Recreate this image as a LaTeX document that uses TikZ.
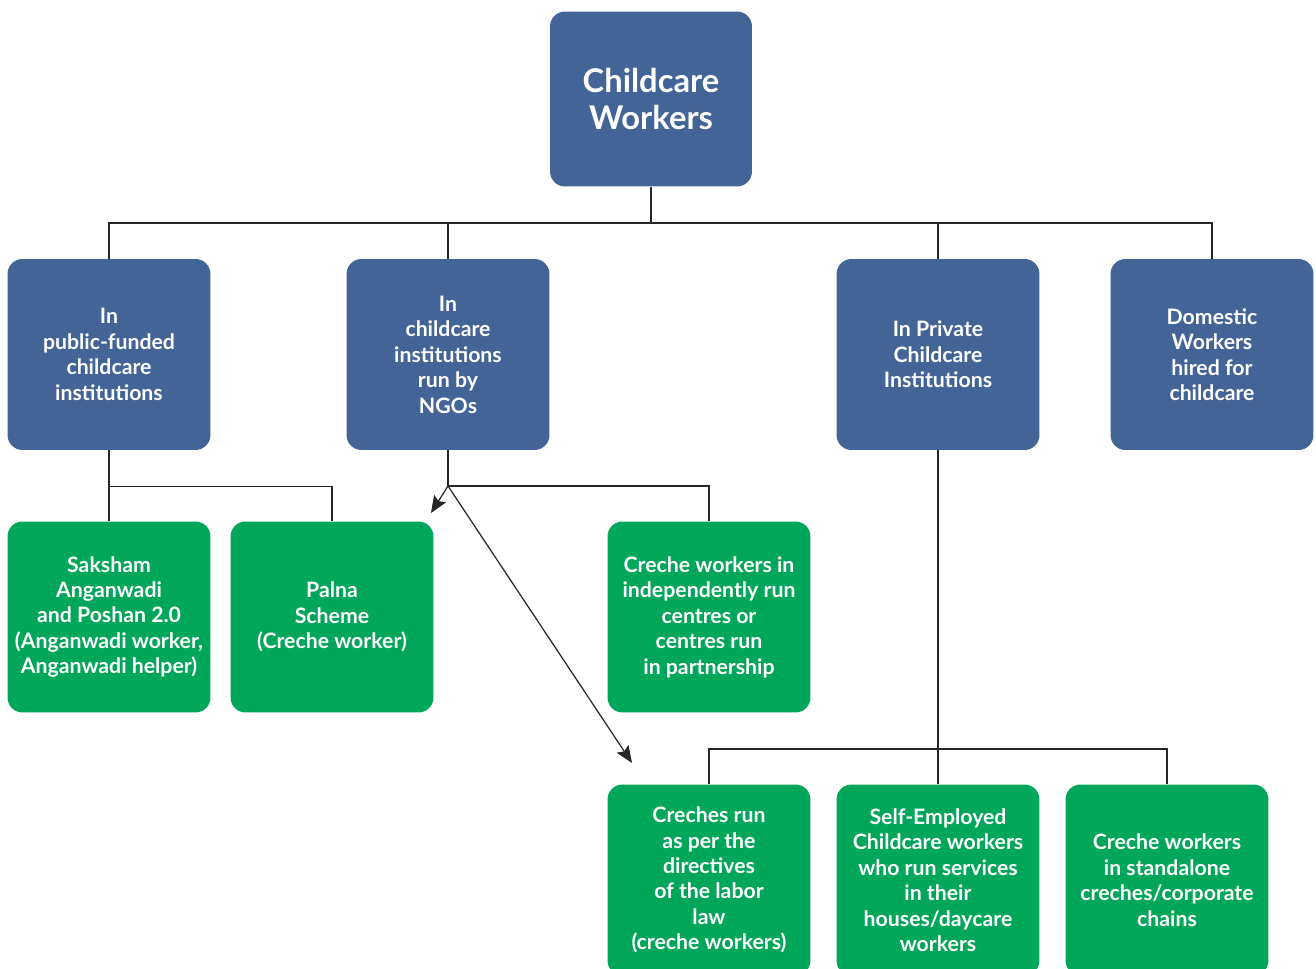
\documentclass[tikz,border=0pt]{standalone}
\usepackage{fontspec}
\setmainfont{Lato}
\usetikzlibrary{arrows.meta}
\definecolor{boxblue}{HTML}{426497}
\definecolor{boxgreen}{HTML}{00A659}
\tikzset{
  cat/.style={fill=boxblue, text=white, rounded corners=0.3cm, minimum width=4.06cm,
    minimum height=3.82cm, align=center, inner sep=2pt,
    font=\bfseries\fontsize{12.1}{14.5}\selectfont},
  sub/.style={cat, fill=boxgreen},
  link/.style={draw=black!85, line width=0.7pt},
  pointer/.style={link, -{Stealth[length=3.4mm,width=2.8mm,inset=0.6mm]}}
}
\begin{document}
\begin{tikzpicture}[x=0.02cm,y=-0.02cm]
  \useasboundingbox (0,0) rectangle (1316,969);

  %%%%% top %%%%%
  \node[cat, minimum width=4.04cm, minimum height=3.5cm,
    font=\bfseries\fontsize{18.6}{21}\selectfont] (root) at (651,99) {Childcare\\Workers};

  %%%%% first level %%%%%
  \node[cat] (pub)  at (109,354.5)  {In\\public-funded\\childcare\\institutions};
  \node[cat] (ngo)  at (448,354.5)  {In\\childcare\\institutions\\run by\\NGOs};
  \node[cat] (priv) at (938,354.5)  {In Private\\Childcare\\Institutions};
  \node[cat] (dom)  at (1212,354.5) {Domestic\\Workers\\hired for\\childcare};

  %%%%% second level %%%%%
  \node[sub] (saksham) at (109,617) {Saksham\\Anganwadi\\and Poshan 2.0\\(Anganwadi worker,\\Anganwadi helper)};
  \node[sub] (palna)   at (332,617) {Palna\\Scheme\\(Creche worker)};
  \node[sub] (indep)   at (709,617) {Creche workers in\\independently run\\centres or\\centres run\\in partnership};

  %%%%% third level %%%%%
  \node[sub] (labor)  at (709,880)  {Creches run\\as per the\\directives\\of the labor\\law\\(creche workers)};
  \node[sub] (self)   at (938,880)  {Self-Employed\\Childcare workers\\who run services\\in their\\houses/daycare\\workers};
  \node[sub] (alone)  at (1167,880) {Creche workers\\in standalone\\creches/corporate\\chains};

  %%%%% connectors %%%%%
  \coordinate (bus) at (651,223);
  \draw[link] (root.south) -- (bus);
  \draw[link] (pub.north) |- (bus);
  \draw[link] (ngo.north) |- (bus);
  \draw[link] (priv.north) |- (bus);
  \draw[link] (dom.north) |- (bus);

  \draw[link] (pub.south) -- (saksham.north);
  \draw[link] (pub.south) -- ++(0,36) -| (palna.north);

  \coordinate (ngoj) at (448,486);
  \coordinate (tipa) at (431,513);
  \coordinate (tipb) at (632,763);
  \draw[link] (ngo.south) -- (ngoj) -| (indep.north);
  \draw[pointer] (ngoj) -- (tipa);
  \draw[pointer] (ngoj) -- (tipb);

  \coordinate (privj) at (938,749);
  \draw[link] (priv.south) -- (self.north);
  \draw[link] (labor.north) |- (privj) -| (alone.north);
\end{tikzpicture}
\end{document}
